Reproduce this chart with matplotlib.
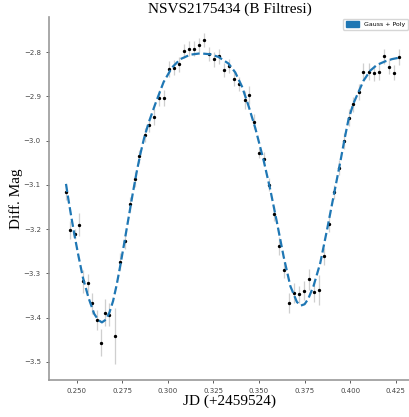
import matplotlib
matplotlib.use("Agg")
import matplotlib.pyplot as plt
from matplotlib.patches import Patch

# Gozlem noktalari (JD - 2459524, fark parlaklik, hata)
jd = [0.2442, 0.2465, 0.2491, 0.2515, 0.2538, 0.2560, 0.2586, 0.2610, 0.2634, 0.2657,
      0.2679, 0.2708, 0.2738, 0.2763, 0.2791, 0.2818, 0.2845, 0.2873, 0.2899, 0.2926,
      0.2953, 0.2981, 0.3008, 0.3036, 0.3063, 0.3090, 0.3118, 0.3145, 0.3173, 0.3200,
      0.3227, 0.3255, 0.3282, 0.3310, 0.3337, 0.3364, 0.3392, 0.3421, 0.3445, 0.3474,
      0.3502, 0.3527, 0.3553, 0.3580, 0.3610, 0.3638, 0.3666, 0.3690, 0.3720, 0.3745,
      0.3774, 0.3799, 0.3828, 0.3854, 0.3883, 0.3910, 0.3939, 0.3968, 0.3991, 0.4018,
      0.4046, 0.4073, 0.4101, 0.4128, 0.4156, 0.4183, 0.4211, 0.4238, 0.4265]
mag = [-3.117, -3.202, -3.211, -3.190, -3.318, -3.322, -3.368, -3.406, -3.457, -3.389,
       -3.394, -3.442, -3.274, -3.228, -3.144, -3.087, -3.036, -2.987, -2.966, -2.946,
       -2.903, -2.904, -2.839, -2.835, -2.828, -2.797, -2.792, -2.792, -2.784, -2.773,
       -2.805, -2.816, -2.809, -2.841, -2.831, -2.861, -2.873, -2.908, -2.897, -2.957,
       -3.029, -3.041, -3.100, -3.166, -3.238, -3.292, -3.367, -3.345, -3.348, -3.339,
       -3.314, -3.343, -3.337, -3.262, -3.189, -3.117, -3.062, -3.001, -2.948, -2.918,
       -2.890, -2.844, -2.844, -2.848, -2.844, -2.809, -2.833, -2.847, -2.811]
err = [0.017, 0.021, 0.012, 0.026, 0.026, 0.020, 0.024, 0.023, 0.030, 0.030,
       0.026, 0.064, 0.019, 0.017, 0.017, 0.017, 0.015, 0.016, 0.015, 0.018,
       0.018, 0.018, 0.018, 0.017, 0.016, 0.016, 0.016, 0.016, 0.015, 0.016,
       0.016, 0.017, 0.017, 0.016, 0.016, 0.016, 0.016, 0.020, 0.020, 0.017,
       0.011, 0.015, 0.015, 0.017, 0.020, 0.018, 0.023, 0.023, 0.019, 0.021,
       0.023, 0.023, 0.034, 0.019, 0.018, 0.016, 0.017, 0.018, 0.020, 0.017,
       0.018, 0.020, 0.020, 0.018, 0.020, 0.017, 0.017, 0.017, 0.018]

# Gauss + Poly model egrisi
fit_jd = [0.2442, 0.2456, 0.2471, 0.2489, 0.2511, 0.2535, 0.2566, 0.2597, 0.2620, 0.2639,
          0.2660, 0.2680, 0.2700, 0.2720, 0.2740, 0.2760, 0.2785, 0.2810, 0.2831, 0.2850,
          0.2870, 0.2895, 0.2931, 0.2977, 0.3023, 0.3069, 0.3123, 0.3178, 0.3233, 0.3278,
          0.3333, 0.3370, 0.3407, 0.3443, 0.3480, 0.3525, 0.3562, 0.3599, 0.3635, 0.3672,
          0.3708, 0.3730, 0.3750, 0.3770, 0.3799, 0.3836, 0.3873, 0.3909, 0.3946, 0.3970,
          0.3991, 0.4018, 0.4046, 0.4073, 0.4110, 0.4147, 0.4192, 0.4229, 0.4265]
fit_mag = [-3.098, -3.135, -3.172, -3.215, -3.262, -3.310, -3.356, -3.392, -3.406, -3.411,
           -3.405, -3.389, -3.363, -3.326, -3.282, -3.235, -3.175, -3.115, -3.068, -3.030,
           -2.995, -2.960, -2.918, -2.868, -2.835, -2.816, -2.806, -2.803, -2.805, -2.811,
           -2.826, -2.846, -2.878, -2.922, -2.972, -3.044, -3.111, -3.186, -3.262, -3.329,
           -3.365, -3.373, -3.370, -3.358, -3.329, -3.277, -3.202, -3.126, -3.048, -2.995,
           -2.952, -2.916, -2.890, -2.865, -2.842, -2.829, -2.821, -2.816, -2.813]

fig = plt.figure(figsize=(4.1, 4.17), dpi=100)
ax = fig.add_axes([0.12, 0.089, 0.88, 0.870])

ax.errorbar(jd, mag, yerr=err, fmt='o', color='black', markersize=1.4,
            ecolor='#cfcfcf', elinewidth=0.9, capsize=0, zorder=2)
ax.plot(fit_jd, fit_mag, '--', color='#1f77b4', linewidth=1.6, zorder=3)

ax.set_xlim(0.235, 0.4328)
ax.set_ylim(-3.541, -2.721)
ax.set_xticks([0.250, 0.275, 0.300, 0.325, 0.350, 0.375, 0.400, 0.425])
ax.set_yticks([-3.5, -3.4, -3.3, -3.2, -3.1, -3.0, -2.9, -2.8])
ax.xaxis.set_major_formatter(plt.FormatStrFormatter('%.3f'))
ax.tick_params(labelsize=5, colors='#444444', length=2.5, width=0.6)

for s in ['top', 'right']:
    ax.spines[s].set_visible(False)
for s in ['left', 'bottom']:
    ax.spines[s].set_color('#999999')
    ax.spines[s].set_linewidth(1.2)

ax.set_title("NSVS2175434 (B Filtresi)", family='Liberation Serif', fontsize=11, pad=3)
ax.set_xlabel("JD (+2459524)", family='Liberation Serif', fontsize=11, labelpad=0)
ax.set_ylabel("Diff. Mag", family='Liberation Serif', fontsize=11, labelpad=0.5)

ax.legend(handles=[Patch(color='#1f77b4', label='Gauss + Poly')], loc='upper right',
          fontsize=4.5, borderaxespad=0.3, handlelength=2.2, handleheight=0.9)

fig.savefig("out.png", dpi=100)
